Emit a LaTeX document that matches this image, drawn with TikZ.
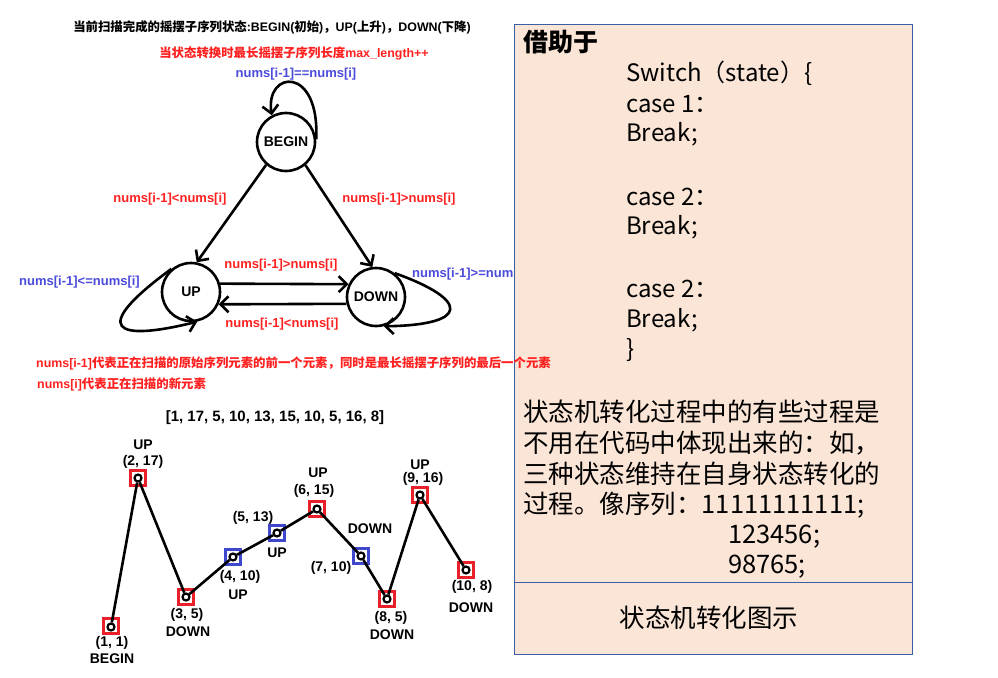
\documentclass[tikz,border=0pt]{standalone}
\usepackage{fontspec}
\setmainfont{Liberation Sans}
\newfontfamily\cjk{Noto Sans CJK SC}
\usetikzlibrary{arrows.meta}
\definecolor{rd}{HTML}{FF2020}
\definecolor{bl}{HTML}{4B4BDB}
\definecolor{sqr}{HTML}{E8202A}
\definecolor{sqb}{HTML}{3F48CC}
\definecolor{peach}{HTML}{FBE5D6}
\definecolor{pborder}{HTML}{3A5FA5}
\tikzset{
  fs/.style={font=\fontsize{#1}{#1}\selectfont},
  txt/.style={inner sep=0pt},
  btxt/.style={inner sep=0pt, font=\bfseries\fontsize{#1}{#1}\selectfont},
  redlab/.style={btxt=13, text=rd},
  bluelab/.style={btxt=13, text=bl},
  state/.style={circle, draw, line width=2.6pt, minimum size=58pt, inner sep=0pt, font=\bfseries\fontsize{14}{14}\selectfont},
  arr/.style={line width=2.6pt, -{Straight Barb[length=8pt,width=16pt]}},
  rsq/.style={draw=sqr, line width=2.4pt, minimum size=15pt, inner sep=0pt},
  bsq/.style={draw=sqb, line width=2.4pt, minimum size=15pt, inner sep=0pt},
  pt/.style={circle, draw, line width=2.2pt, minimum size=7pt, inner sep=0pt, fill=white},
  clab/.style={btxt=14},
  seg/.style={line width=2.6pt},
  ptxt/.style={inner sep=0pt, anchor=west, font=\cjk\fontsize{25.5}{25.5}\selectfont},
  ctxt/.style={inner sep=0pt, anchor=west, font=\cjk\fontsize{24}{24}\selectfont},
}
\begin{document}
\begin{tikzpicture}[x=1pt,y=-1pt]
\useasboundingbox (0,0) rectangle (998,677);

% ---- top texts
\node[btxt=12.4] (title) at (272,27) {{\cjk\bfseries 当前扫描完成的摇摆子序列状态}:BEGIN({\cjk\bfseries 初始}){\cjk\bfseries ，}UP({\cjk\bfseries 上升}){\cjk\bfseries ，}DOWN({\cjk\bfseries 下降})};
\node[btxt=12.4, text=rd] (maxlen) at (294,53) {{\cjk\bfseries 当状态转换时最长摇摆子序列长度}max\_length++};

% ---- state diagram
\node[state] (BEGIN) at (286,142) {BEGIN};
\node[state] (UP) at (191,292) {UP};
\node[state] (DOWN) at (376,297) {DOWN};

\draw[arr] (BEGIN.5) .. controls (320,65) and (265,70) .. (BEGIN.118);
\draw[arr] (BEGIN.229) -- (UP.79);
\draw[arr] (BEGIN.-50) -- (DOWN.97);
\draw[arr] (UP.16) -- (DOWN.155);
\draw[arr] (DOWN.193) -- (UP.-24);
\draw[arr] (UP.130) .. controls (88,330) and (115,342) .. (UP.-78);
\draw[arr] (DOWN.52) .. controls (470,300) and (470,325) .. (DOWN.-75);

\node[bluelab] (lbb) at (296,74) {nums[i-1]==nums[i]};
\node[redlab] (lbu) at (170,199) {nums[i-1]<nums[i]};
\node[redlab] (lbd) at (399,199) {nums[i-1]>nums[i]};
\node[redlab] (lud) at (281,265) {nums[i-1]>nums[i]};
\node[redlab] (ldu) at (282,324) {nums[i-1]<nums[i]};
\node[bluelab, anchor=west] (luu) at (19,282) {nums[i-1]<=nums[i]};
\node[bluelab, anchor=west] (ldd) at (412,274) {nums[i-1]>=nums[i]};

% ---- right panel
\draw[pborder, line width=1pt, fill=peach] (514,25) rectangle (912,654);
\draw[pborder, line width=1pt] (514,582) -- (912,582);

\node[inner sep=0pt, anchor=west, font=\cjk\bfseries\fontsize{25}{25}\selectfont] (jz) at (523,42) {借助于};
\node[ctxt] (c1) at (626,73) {Switch（state）\{};
\node[ctxt] (c2) at (626,104) {case 1：};
\node[ctxt] (c3) at (626,134) {Break;};
\node[ctxt] (c4) at (626,197) {case 2：};
\node[ctxt] (c5) at (626,227) {Break;};
\node[ctxt] (c6) at (626,289) {case 2：};
\node[ctxt] (c7) at (626,320) {Break;};
\node[ctxt] (c8) at (626,350) {\}};

\node[ptxt] (p1) at (523,412) {状态机转化过程中的有些过程是};
\node[ptxt] (p2) at (523,443) {不用在代码中体现出来的：如，};
\node[ptxt] (p3) at (523,474) {三种状态维持在自身状态转化的};
\node[ptxt] (p4) at (523,505) {过程。像序列：11111111111;};
\node[ptxt] (p5) at (728,537) {123456;};
\node[ptxt] (p6) at (728,567) {98765;};
\node[inner sep=0pt, font=\cjk\fontsize{25.5}{25.5}\selectfont] (cap) at (709,618) {状态机转化图示};

% ---- explanation
\node[btxt=12.4, text=rd, anchor=west] (ex1) at (36,363) {nums[i-1]{\cjk\bfseries 代表正在扫描的原始序列元素的前一个元素，同时是最长摇摆子序列的最后一个元素}};
\node[btxt=12.4, text=rd, anchor=west] (ex2) at (37,384) {nums[i]{\cjk\bfseries 代表正在扫描的新元素}};
\node[btxt=15] (arr) at (275,418) {[1, 17, 5, 10, 13, 15, 10, 5, 16, 8]};

% ---- chart
\node[rsq] (s1) at (111,626) {};
\node[rsq] (s2) at (138,478) {};
\node[rsq] (s3) at (186,597) {};
\node[bsq] (s4) at (233,557) {};
\node[bsq] (s5) at (277,533) {};
\node[rsq] (s6) at (317,509) {};
\node[bsq] (s7) at (361,556) {};
\node[rsq] (s8) at (387,599) {};
\node[rsq] (s9) at (420,495) {};
\node[rsq] (s10) at (466,570) {};

\node[pt] (q1) at (111,627) {};
\node[pt] (q2) at (138,478) {};
\node[pt] (q3) at (186,597) {};
\node[pt] (q4) at (233,557) {};
\node[pt] (q5) at (277,533) {};
\node[pt] (q6) at (317,509) {};
\node[pt] (q7) at (361,556) {};
\node[pt] (q8) at (387,599) {};
\node[pt] (q9) at (420,495) {};
\node[pt] (q10) at (466,570) {};

\draw[seg] (q1) -- (q2);
\draw[seg] (q2) -- (q3);
\draw[seg] (q3) -- (q4);
\draw[seg] (q4) -- (q5);
\draw[seg] (q5) -- (q6);
\draw[seg] (q6) -- (q7);
\draw[seg] (q7) -- (q8);
\draw[seg] (q8) -- (q9);
\draw[seg] (q9) -- (q10);

\node[clab] (a1) at (112,643) {(1, 1)};
\node[clab] (b1) at (112,659) {BEGIN};
\node[clab] (a2) at (143,445) {UP};
\node[clab] (b2) at (143,462) {(2, 17)};
\node[clab] (a3) at (187,615) {(3, 5)};
\node[clab] (b3) at (188,632) {DOWN};
\node[clab] (a4) at (240,577) {(4, 10)};
\node[clab] (b4) at (238,595) {UP};
\node[clab] (a5) at (253,518) {(5, 13)};
\node[clab] (b5) at (277,553) {UP};
\node[clab] (a6) at (318,473) {UP};
\node[clab] (b6) at (314,491) {(6, 15)};
\node[clab] (a7) at (370,529) {DOWN};
\node[clab] (b7) at (331,568) {(7, 10)};
\node[clab] (a8) at (391,618) {(8, 5)};
\node[clab] (b8) at (392,635) {DOWN};
\node[clab] (a9) at (420,465) {UP};
\node[clab] (b9) at (423,479) {(9, 16)};
\node[clab] (a10) at (472,587) {(10, 8)};
\node[clab] (b10) at (471,608) {DOWN};
\end{tikzpicture}
\end{document}
